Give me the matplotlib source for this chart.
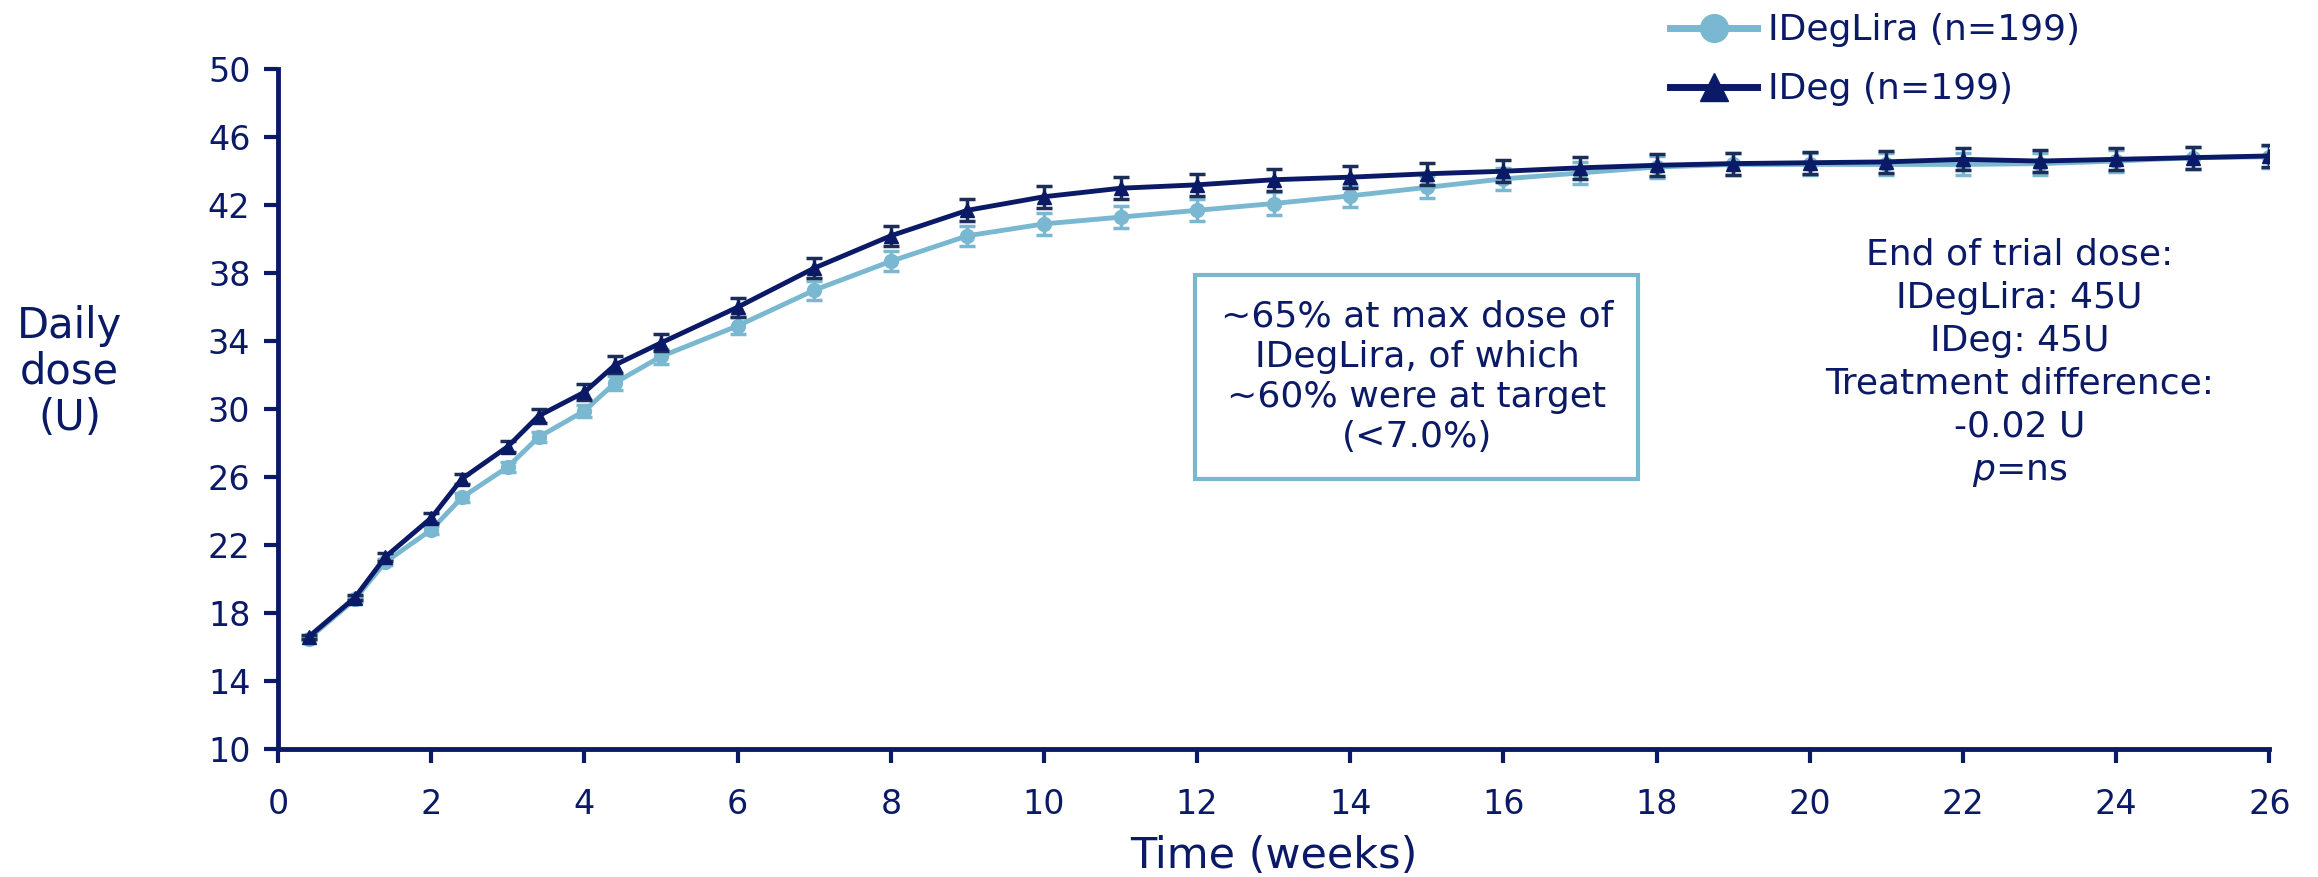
import matplotlib.pyplot as plt
from matplotlib.lines import Line2D
import numpy as np

navy = '#0b1a66'
light = '#79b8d0'
err_dark = '#1c2d57'

weeks = [0.4, 1, 1.4, 2, 2.4, 3, 3.4, 4, 4.4, 5, 6, 7, 8, 9, 10, 11, 12, 13,
         14, 15, 16, 17, 18, 19, 20, 21, 22, 23, 24, 25, 26]
ideg = [16.6, 18.9, 21.3, 23.6, 25.9, 27.8, 29.6, 31.0, 32.6, 33.9, 36.0, 38.3,
        40.2, 41.7, 42.5, 43.0, 43.2, 43.5, 43.65, 43.85, 44.0, 44.2, 44.35,
        44.45, 44.5, 44.55, 44.7, 44.6, 44.7, 44.8, 44.9]
ideg_se = [0.1, 0.15, 0.25, 0.3, 0.3, 0.35, 0.4, 0.45, 0.5, 0.5, 0.55, 0.6,
           0.6, 0.65, 0.65, 0.65, 0.65, 0.65, 0.65, 0.65, 0.65, 0.65, 0.65,
           0.65, 0.65, 0.65, 0.65, 0.65, 0.65, 0.65, 0.65]
ideglira = [16.5, 18.8, 21.0, 22.9, 24.8, 26.6, 28.35, 29.9, 31.55, 33.1, 34.9,
            37.0, 38.7, 40.2, 40.9, 41.3, 41.7, 42.1, 42.55, 43.05, 43.55,
            43.9, 44.25, 44.4, 44.4, 44.4, 44.4, 44.45, 44.6, 44.8, 44.85]
ideglira_se = [0.1, 0.15, 0.2, 0.25, 0.25, 0.3, 0.3, 0.35, 0.4, 0.45, 0.5, 0.55,
               0.6, 0.6, 0.65, 0.65, 0.65, 0.65, 0.65, 0.65, 0.65, 0.65, 0.65,
               0.65, 0.65, 0.65, 0.65, 0.65, 0.65, 0.65, 0.65]

yticks = np.arange(10, 51, 4)
xticks = np.arange(0, 27, 2)

fig = plt.figure(figsize=(23.18, 8.77), dpi=100)
ax = fig.add_axes([0.120, 0.146, 0.859, 0.775])

ax.errorbar(weeks, ideglira, yerr=ideglira_se, color=light, ecolor=light,
            marker='o', markersize=10, lw=3.5, elinewidth=2.5, capsize=6,
            capthick=2.5, zorder=3)
ax.errorbar(weeks, ideg, yerr=ideg_se, color=navy, ecolor=err_dark,
            marker='^', markersize=10, lw=3.5, elinewidth=2.5, capsize=6,
            capthick=2.5, zorder=4)

ax.set_xlim(0, 26)
ax.set_ylim(10, 50)
ax.set_xticks(xticks)
ax.set_yticks(yticks)
for s in ['top', 'right']:
    ax.spines[s].set_visible(False)
for s in ['left', 'bottom']:
    ax.spines[s].set_color(navy)
    ax.spines[s].set_linewidth(3.5)
ax.tick_params(axis='both', colors=navy, width=3, length=10, labelsize=24,
               direction='out')
ax.tick_params(axis='y', pad=10)
ax.tick_params(axis='x', pad=18)

ax.set_xlabel('Time (weeks)', fontsize=31, color=navy, labelpad=10)
fig.text(0.030, 0.576, 'Daily\ndose\n(U)', fontsize=30, color=navy,
         ha='center', va='center', linespacing=1.12)

ax.text(14.87, 31.9, '~65% at max dose of\nIDegLira, of which\n~60% were at target\n(<7.0%)',
        fontsize=26, color=navy, ha='center', va='center', linespacing=1.22,
        bbox=dict(boxstyle='square,pad=0.7', fc='white', ec=light, lw=3))
ax.text(22.74, 32.7, 'End of trial dose:\nIDegLira: 45U\nIDeg: 45U\nTreatment difference:\n-0.02 U\n$p$=ns',
        fontsize=26, color=navy, ha='center', va='center', linespacing=1.33)

handles = [Line2D([], [], color=light, lw=5, marker='o', markersize=20),
           Line2D([], [], color=navy, lw=5, marker='^', markersize=20)]
leg = fig.legend(handles, ['IDegLira (n=199)', 'IDeg (n=199)'], loc='upper left',
                 bbox_to_anchor=(0.7065, 1.022), frameon=False, fontsize=26,
                 handlelength=2.4, handletextpad=0.3, labelspacing=0.7)
for t in leg.get_texts():
    t.set_color(navy)

fig.savefig('out.png', dpi=100)
